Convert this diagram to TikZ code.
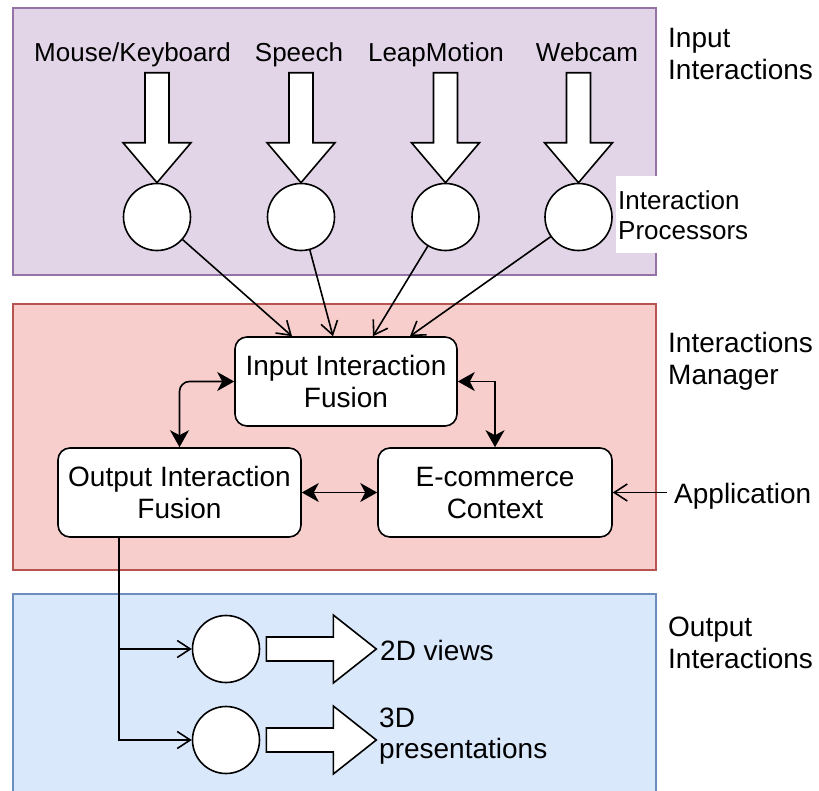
\documentclass[tikz,border=0pt]{standalone}
\usepackage{fontspec}
\setmainfont{Liberation Sans}
\usetikzlibrary{arrows.meta,calc}
\definecolor{purpfill}{HTML}{E1D5E7}
\definecolor{purpline}{HTML}{9673A6}
\definecolor{redfill}{HTML}{F8CECC}
\definecolor{redline}{HTML}{B85450}
\definecolor{bluefill}{HTML}{DAE8FC}
\definecolor{blueline}{HTML}{6C8EBF}
\begin{document}
\begin{tikzpicture}[x=1pt,y=-1pt,
  region/.style={line width=1.6pt},
  box/.style={draw, fill=white, rounded corners=12pt, line width=1.6pt, align=center,
    font=\fontsize{28}{32}\selectfont, inner sep=0pt},
  proc/.style={circle, draw, fill=white, minimum size=67pt, inner sep=0pt, line width=1.6pt},
  toplab/.style={font=\fontsize{26}{30}\selectfont, anchor=base, inner sep=0pt},
  side/.style={font=\fontsize{28}{32}\selectfont, align=left, anchor=north west, inner sep=0pt},
  conn/.style={line width=1.6pt, -{Straight Barb[length=13pt,width=17pt]}},
  bidir/.style={line width=1.6pt, {Stealth[length=17pt,width=19pt,inset=5pt]}-{Stealth[length=17pt,width=19pt,inset=5pt]}},
  blk/.style={draw, fill=white, line width=1.6pt, line join=miter}
]
\useasboundingbox (0,0) rectangle (819,790);

% regions
\draw[region, fill=purpfill, draw=purpline] (13,8) rectangle (656,275);
\draw[region, fill=redfill, draw=redline] (13,304) rectangle (656,570);
\draw[region, fill=bluefill, draw=blueline] (13,594) rectangle (656,800);

% input labels
\node[toplab] (tmk) at (132.5,61) {Mouse/Keyboard};
\node[toplab] (tsp) at (299,61) {Speech};
\node[toplab] (tlm) at (436,61) {LeapMotion};
\node[toplab] (twc) at (587,61) {Webcam};

% interaction processors
\node[proc] (c1) at (157,217) {};
\node[proc] (c2) at (301,217) {};
\node[proc] (c3) at (445.5,217) {};
\node[proc] (c4) at (578.5,217) {};

% block arrows into processors
\foreach \c in {c1,c2,c3,c4}{
  \draw[blk] (\c.north) -- ++(-34,-40) -- ++(22,0) -- ++(0,-70) -- ++(24,0)
    -- ++(0,70) -- ++(22,0) -- cycle;
}

% side labels
\node[side] (lin) at (668,28) {Input\\Interactions};
\node[side, fill=white, inner xsep=2pt, inner ysep=14pt, font=\fontsize{26}{30}\selectfont,
  anchor=north west] (lproc) at (616,176) {Interaction\\Processors};
\node[side] (lman) at (668,332) {Interactions\\Manager};
\node[side] (lout) at (668,617) {Output\\Interactions};

% manager boxes
\node[box, minimum width=222pt, minimum height=89pt] (iif) at (346,381.5) {Input Interaction\\Fusion};
\node[box, minimum width=243pt, minimum height=89pt] (oif) at (179.5,492.5) {Output Interaction\\Fusion};
\node[box, minimum width=234pt, minimum height=89pt] (ec) at (495,492.5) {E-commerce\\Context};

% processors to input fusion
\draw[conn] (c1) -- ([xshift=-54]iif.north);
\draw[conn] (c2) -- ([xshift=-13]iif.north);
\draw[conn] (c3) -- ([xshift=27]iif.north);
\draw[conn] (c4) -- ([xshift=64]iif.north);

% bidirectional links
\draw[bidir, rounded corners=10pt] (iif.west) -| (oif.north);
\draw[bidir] (iif.east) -| (ec.north);
\draw[bidir] (oif.east) -- (ec.west);

% application
\node[font=\fontsize{28}{32}\selectfont, anchor=base west, inner sep=0pt] (app) at (674,503) {Application};
\draw[conn] ([xshift=-7]app.west |- ec.east) -- (ec.east);

% output processors
\node[proc] (oc1) at (226,649) {};
\node[proc] (oc2) at (226,740) {};
\coordinate (ostart) at ([xshift=-60.5]oif.south);
\draw[conn] (ostart) |- (oc1.west);
\draw[conn] (ostart) |- (oc2.west);

% output block arrows
\foreach \c in {oc1,oc2}{
  \draw[blk] ([xshift=6]\c.east) ++(0,-12) -- ++(67,0) -- ++(0,-22) -- ++(43,34)
    -- ++(-43,34) -- ++(0,-22) -- ++(-67,0) -- cycle;
}

% output labels
\node[font=\fontsize{28}{32}\selectfont, anchor=base west, inner sep=0pt] (l2d) at (380,660) {2D views};
\node[side, font=\fontsize{28}{31}\selectfont] (l3d) at (379,708) {3D\\presentations};
\end{tikzpicture}
\end{document}
